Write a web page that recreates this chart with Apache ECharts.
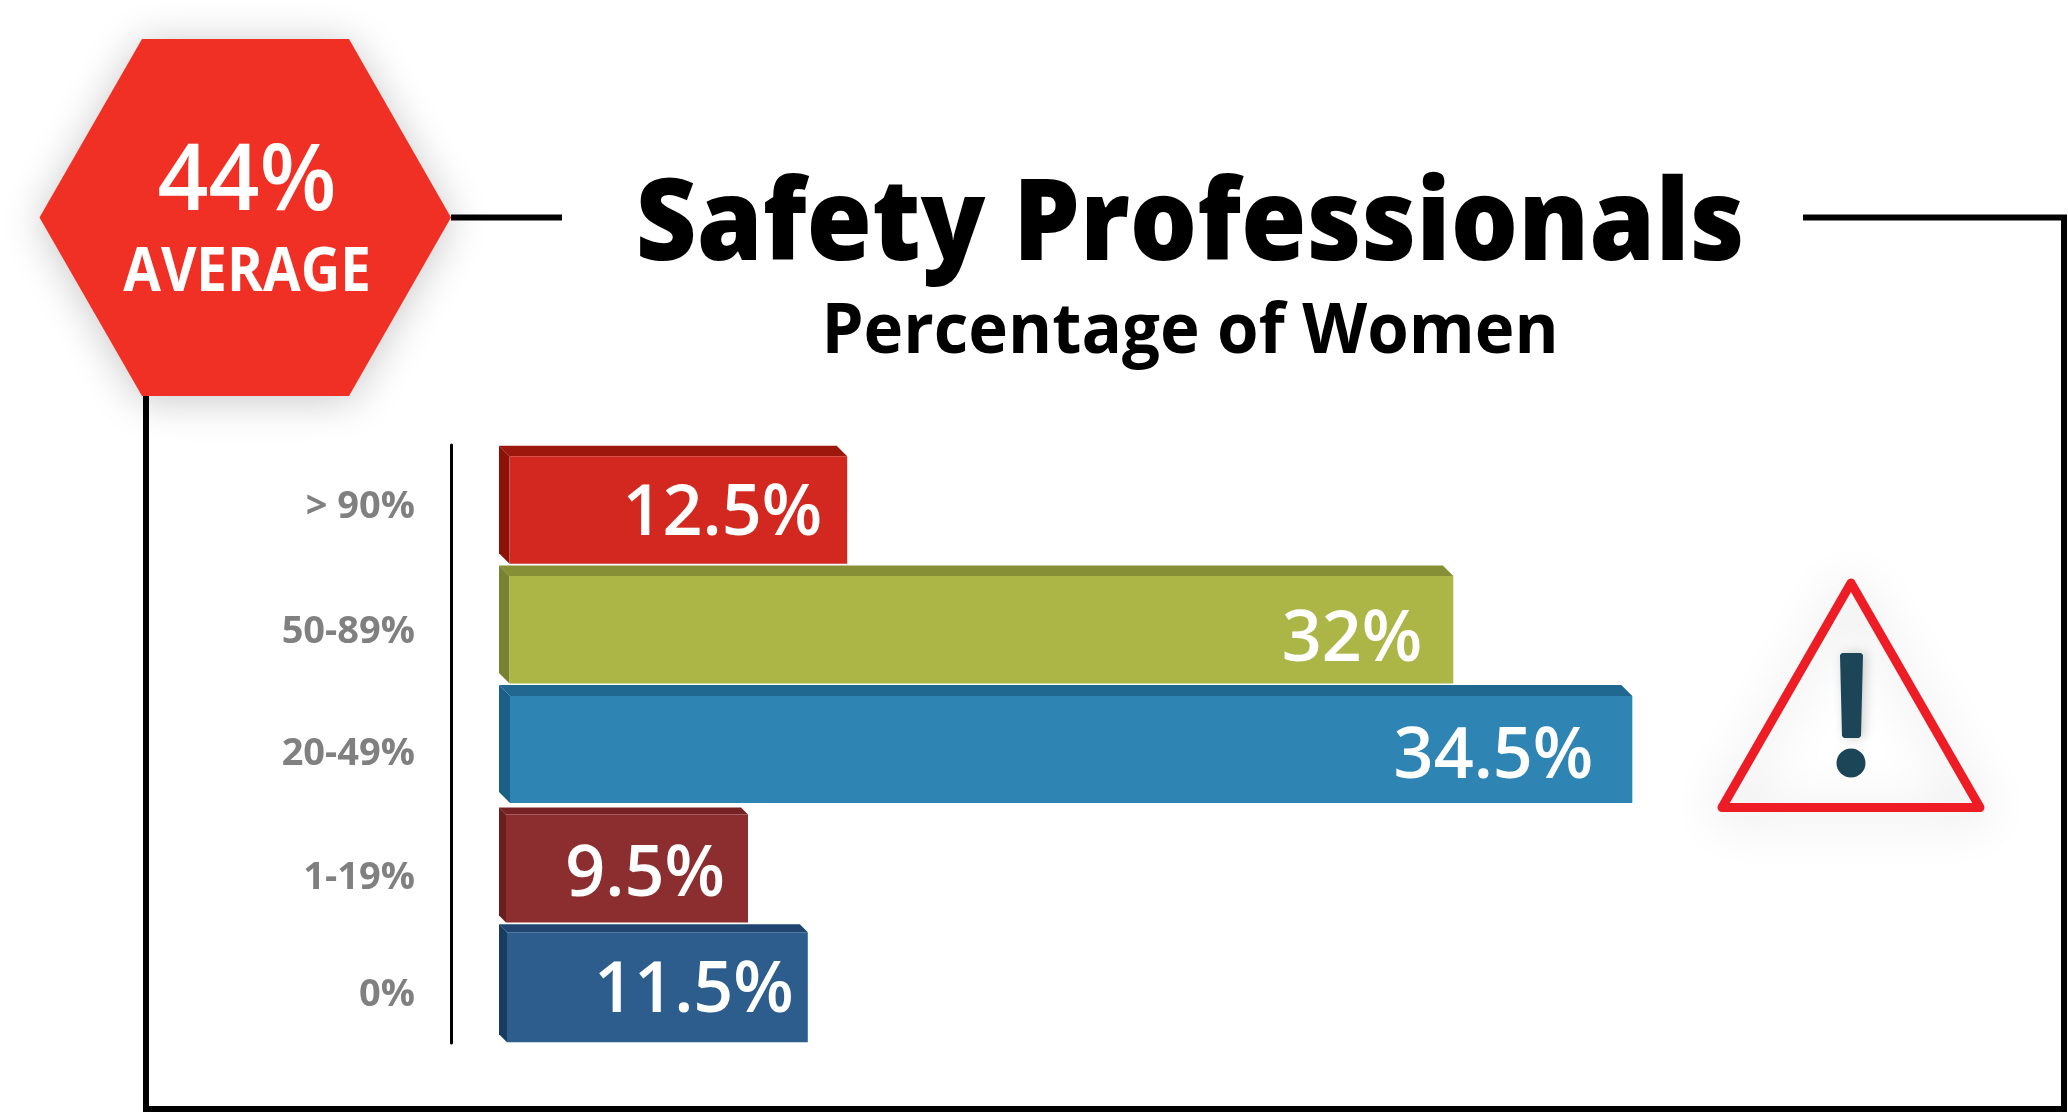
<!DOCTYPE html>
<html><head><meta charset="utf-8">
<style>html,body{margin:0;padding:0;background:#fff}#c{width:2068px;height:1113px}</style>
<script src="https://cdn.jsdelivr.net/npm/echarts@6/dist/echarts.min.js"></script>
</head><body><div id="c"></div>
<script>
// Data
const categories = ['> 90%', '50-89%', '20-49%', '1-19%', '0%'];
const printedValues = ['12.5%', '32%', '34.5%', '9.5%', '11.5%'];
// Bar lengths as drawn in the picture (the source bars are not proportional to their printed labels)
const drawnLengths = [10.6, 29.05, 34.5, 7.58, 9.4];
const titleText = 'Safety Professionals';
const subtitleText = 'Percentage of Women';
const badgeValue = '44%';
const badgeLabel = 'AVERAGE';

// Styles
const barFront = ['#d2281f', '#abb647', '#2e84b3', '#8c2e2f', '#2d5d8c'];
const barTop = ['#9e170c', '#868e36', '#20688f', '#762222', '#1f4570'];
const barSide = ['#8c1207', '#788230', '#1a5f86', '#6a1f1f', '#183b60'];
const bevel = [10.5, 10.5, 11, 7, 8];
const labelInset = [25, 31, 39, 23, 14];
const labelShift = [10, 17, 14, 12, 9];
const catShift = [2, 8, 10, 15, 12];
const topTrim = [0, 0, 0, 3, 0];
const BAR_H = 118;
const FONT = '"Open Sans","Noto Sans",sans-serif';

function renderBar(params, api) {
  const i = api.value(1);
  const p0 = api.coord([0, i]);
  const p1 = api.coord([api.value(0), i]);
  const x0 = p0[0], x1 = p1[0], y0 = p0[1] - BAR_H / 2 + topTrim[i], y1 = p0[1] + BAR_H / 2, d = bevel[i];
  return {
    type: 'group',
    children: [
      { type: 'polygon', shape: { points: [[x0, y0], [x1 - d, y0], [x1, y0 + d], [x0 + d, y0 + d]] }, style: { fill: barTop[i] } },
      { type: 'polygon', shape: { points: [[x0, y0], [x0 + d, y0 + d], [x0 + d, y1], [x0, y1 - d]] }, style: { fill: barSide[i] } },
      { type: 'rect', shape: { x: x0 + d, y: y0 + d, width: x1 - x0 - d, height: y1 - y0 - d }, style: { fill: barFront[i] } },
      { type: 'text', style: { text: printedValues[i], x: x1 - labelInset[i], y: p0[1] + labelShift[i], align: 'right', verticalAlign: 'middle',
          fill: '#fff', fontFamily: FONT, fontWeight: 600, fontSize: 70 } }
    ]
  };
}

const rich = {};
catShift.forEach((s, i) => {
  rich['c' + i] = { padding: [s * 2, 0, 0, 0], color: '#808080', fontFamily: FONT, fontWeight: 700, fontSize: 38 };
});

const chart = echarts.init(document.getElementById('c'));
chart.setOption({
  animation: false,
  backgroundColor: '#fff',
  grid: { left: 499, top: 445, height: 598, width: 1314 },
  xAxis: { type: 'value', min: 0, max: 40, show: false },
  yAxis: {
    type: 'category', data: categories, inverse: true, offset: 48,
    axisLine: { show: true, onZero: false, lineStyle: { color: '#000', width: 3 } },
    axisTick: { show: false },
    axisLabel: { margin: 36, formatter: (v, i) => `{c${i}|${v}}`, rich }
  },
  series: [{
    type: 'custom', renderItem: renderBar, encode: { x: 0, y: 1 },
    data: drawnLengths.map((v, i) => [v, i])
  }],
  graphic: [
    { type: 'polyline', z: 1, shape: { points: [[451, 217.6], [562, 217.6]] }, style: { stroke: '#000', lineWidth: 6, fill: null } },
    { type: 'polyline', z: 1, shape: { points: [[1803, 217.6], [2064, 217.6], [2064, 1109], [146, 1109], [146, 396]] }, style: { stroke: '#000', lineWidth: 6, fill: null, lineJoin: 'miter' } },
    { type: 'polygon', z: 5, shape: { points: [[39.5, 217.6], [142, 39], [349, 39], [451, 217.6], [349, 396], [142, 396]] },
      style: { fill: '#f03024', shadowBlur: 42, shadowColor: 'rgba(0,0,0,0.22)', shadowOffsetY: 4 } },
    { type: 'text', z: 6, x: 247, y: 184, scaleX: 0.97, style: { text: badgeValue, align: 'center', verticalAlign: 'middle', fill: '#fff', fontFamily: FONT, fontWeight: 600, fontSize: 92 } },
    { type: 'text', z: 6, x: 247, y: 274, scaleX: 0.91, style: { text: badgeLabel, align: 'center', verticalAlign: 'middle', fill: '#fff', fontFamily: FONT, fontWeight: 700, fontSize: 60 } },
    { type: 'text', z: 6, x: 1190, y: 228, scaleX: 0.93, style: { text: titleText, align: 'center', verticalAlign: 'middle', fill: '#000', fontFamily: FONT, fontWeight: 800, fontSize: 114 } },
    { type: 'text', z: 6, x: 1190, y: 333, scaleX: 0.96, style: { text: subtitleText, align: 'center', verticalAlign: 'middle', fill: '#000', fontFamily: FONT, fontWeight: 700, fontSize: 70 } },
    { type: 'polygon', z: 5, shape: { points: [[1851, 583], [1980, 807.5], [1722, 807.5]] },
      style: { fill: 'rgba(255,255,255,0.01)', stroke: '#ee1c25', lineWidth: 9, lineJoin: 'round', shadowBlur: 50, shadowColor: 'rgba(0,0,0,0.2)', shadowOffsetY: 6 } },
    { type: 'polygon', z: 6, shape: { points: [[1840, 655], [1842, 653], [1861, 653], [1863, 655], [1861, 736], [1859, 738], [1844, 738], [1842, 736]] },
      style: { fill: '#1d4558', shadowBlur: 12, shadowColor: 'rgba(0,0,0,0.2)', shadowOffsetX: 3 } },
    { type: 'circle', z: 6, shape: { cx: 1851, cy: 763, r: 14.5 }, style: { fill: '#1d4558' } }
  ]
});
</script></body></html>
